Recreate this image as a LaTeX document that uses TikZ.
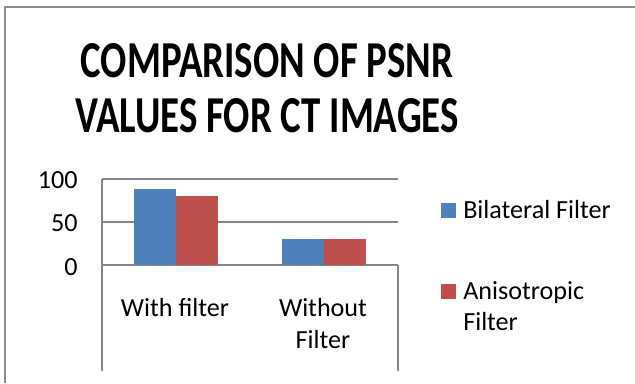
\documentclass[tikz,border=0pt]{standalone}
\usepackage{fontspec}
\usepackage{graphicx}
\setmainfont{Carlito}
\definecolor{barblue}{HTML}{4F81BD}
\definecolor{barred}{HTML}{C0504D}
\definecolor{gridgray}{HTML}{868686}
\definecolor{framegray}{HTML}{8C8C8C}
\begin{document}
\begin{tikzpicture}[x=0.75pt,y=-0.75pt,
  frameline/.style={draw=framegray,line width=1.5pt},
  gridline/.style={draw=gridgray,line width=0.9pt},
  titletext/.style={font=\fontsize{36}{42}\selectfont\bfseries,anchor=base,inner sep=0pt},
  ticklabel/.style={font=\fontsize{19.6}{24}\selectfont,anchor=east,inner sep=0pt},
  catlabel/.style={font=\fontsize{19.6}{24}\selectfont,anchor=base,inner sep=0pt},
  legtext/.style={font=\fontsize{19.6}{24}\selectfont,anchor=base west,inner sep=0pt},
  bluebar/.style={fill=barblue,draw=none},
  redbar/.style={fill=barred,draw=none}]
\useasboundingbox (0,0) rectangle (635,383);
\fill[white] (0,0) rectangle (635,383);
% chart frame
\coordinate (fbl) at (5,383);
\coordinate (ftl) at (5,7);
\coordinate (ftr) at (635,7);
\draw[frameline] (fbl) -- (ftl) -- (ftr);
% title
\node[titletext] (t1) at (267,77) {\scalebox{0.81}[1.08]{COMPARISON OF PSNR}};
\node[titletext] (t2) at (267,132) {\scalebox{0.81}[1.08]{VALUES FOR CT IMAGES}};
% grid and axes
\coordinate (g100l) at (102,179); \coordinate (g100r) at (398,179);
\coordinate (g50l) at (102,222);  \coordinate (g50r) at (398,222);
\coordinate (g0l) at (102,265);   \coordinate (g0r) at (398,265);
\coordinate (vlb) at (102,371);   \coordinate (vrb) at (398,371);
\draw[gridline] (g100l) -- (g100r);
\draw[gridline] (g50l) -- (g50r);
\draw[gridline] (g0l) -- (g0r);
\draw[gridline] (g100l) -- (vlb);
\draw[gridline] (g0r) -- (vrb);
% bars
\fill[bluebar] (134,265) rectangle (176,189);
\fill[redbar] (176,265) rectangle (218,196);
\fill[bluebar] (282,265) rectangle (324,239);
\fill[redbar] (324,265) rectangle (366,239);
% tick labels
\node[ticklabel] (y100) at (78,180) {100};
\node[ticklabel] (y50) at (78,223) {50};
\node[ticklabel] (y0) at (78,267) {0};
% category labels
\node[catlabel] (c1) at (175,316) {With filter};
\node[catlabel] (c2a) at (323,316) {Without};
\node[catlabel] (c2b) at (323,348) {Filter};
% legend
\fill[bluebar] (441,203) rectangle (456,218);
\node[legtext] (l1) at (463,218) {Bilateral Filter};
\fill[redbar] (441,284) rectangle (456,299);
\node[legtext] (l2a) at (463,299) {Anisotropic};
\node[legtext] (l2b) at (463,330) {Filter};
\end{tikzpicture}
\end{document}
